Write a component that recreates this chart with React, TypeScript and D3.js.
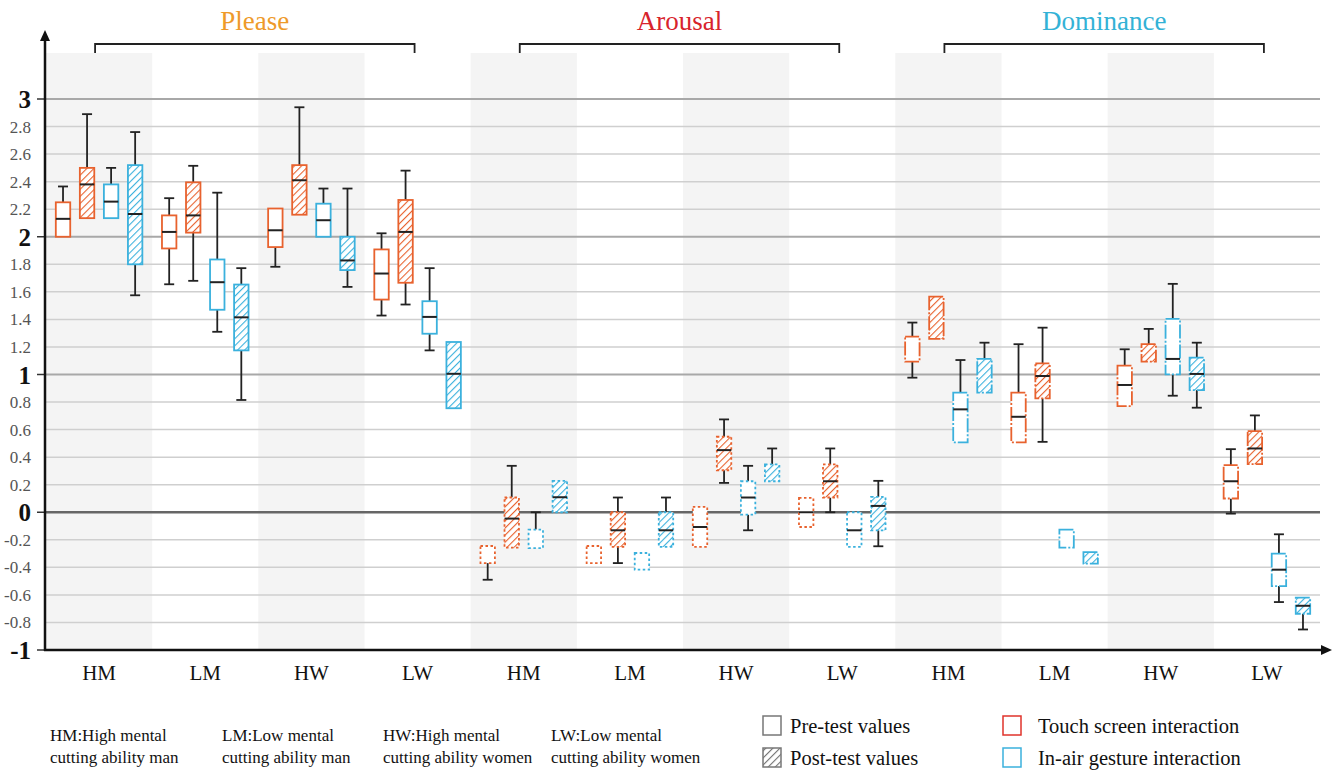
import React from 'react';
import { scaleLinear, scaleBand, range } from 'd3';

// box stats: [whiskerLow, boxLow, median, boxHigh, whiskerHigh], null = not drawn
type Box = (number | null)[];

const dimensions = ['Please', 'Arousal', 'Dominance'];
const groups = ['HM', 'LM', 'HW', 'LW'];
const series = ['touchPre', 'touchPost', 'airPre', 'airPost'];

const pleaseBoxes: Box[] = [
  [null, 2.0, 2.13, 2.25, 2.365], [null, 2.135, 2.38, 2.5, 2.89], [null, 2.135, 2.255, 2.38, 2.5], [1.575, 1.8, 2.165, 2.52, 2.76],
  [1.655, 1.915, 2.035, 2.155, 2.28], [1.68, 2.03, 2.155, 2.395, 2.515], [1.31, 1.47, 1.67, 1.835, 2.32], [0.815, 1.175, 1.415, 1.653, 1.772],
  [1.782, 1.925, 2.047, 2.205, null], [null, 2.16, 2.41, 2.52, 2.94], [null, 2.0, 2.12, 2.24, 2.35], [1.636, 1.758, 1.828, 2.0, 2.35],
  [1.428, 1.544, 1.733, 1.908, 2.025], [1.508, 1.666, 2.035, 2.267, 2.48], [1.175, 1.296, 1.418, 1.532, 1.772], [null, 0.755, 1.005, 1.236, null],
];

const arousalBoxes: Box[] = [
  [-0.49, -0.369, null, -0.245, null], [null, -0.257, -0.046, 0.107, 0.337], [null, -0.26, null, -0.126, 0.0], [null, 0.0, 0.109, 0.228, null],
  [null, -0.369, null, -0.245, null], [-0.369, -0.252, -0.131, 0.0, 0.107], [null, -0.417, null, -0.296, null], [null, -0.252, -0.131, 0.0, 0.107],
  [null, -0.252, -0.107, 0.039, null], [0.213, 0.305, 0.451, 0.548, 0.674], [-0.131, -0.017, 0.107, 0.225, 0.337], [null, 0.225, null, 0.347, 0.463],
  [null, -0.107, 0.0, 0.104, null], [0.0, 0.107, 0.225, 0.347, 0.463], [null, -0.252, -0.131, 0.0, null], [-0.247, -0.131, 0.046, 0.111, 0.228],
];

const dominanceBoxes: Box[] = [
  [0.977, 1.093, null, 1.275, 1.377], [null, 1.258, null, 1.566, null], [null, 0.507, 0.747, 0.868, 1.105], [null, 0.868, null, 1.113, 1.231],
  [null, 0.507, 0.693, 0.868, 1.22], [0.511, 0.827, 0.989, 1.081, 1.34], [null, -0.257, null, -0.126, null], [null, -0.373, null, -0.289, null],
  [null, 0.771, 0.924, 1.064, 1.183], [null, 1.093, null, 1.22, 1.331], [0.846, 1.001, 1.113, 1.404, 1.658], [0.759, 0.887, 1.004, 1.122, 1.231],
  [-0.01, 0.1, 0.225, 0.342, 0.458], [null, 0.349, 0.463, 0.589, 0.703], [-0.652, -0.536, -0.417, -0.3, -0.16], [-0.851, -0.737, -0.679, -0.62, null],
];

const majorTicks = [3, 2, 1, 0, -1];
const minorTicks = [2.8, 2.6, 2.4, 2.2, 1.8, 1.6, 1.4, 1.2, 0.8, 0.6, 0.4, 0.2, -0.2, -0.4, -0.6, -0.8];
const groupNotes = [
  ['HM:High mental', 'cutting ability man'],
  ['LM:Low mental', 'cutting ability man'],
  ['HW:High mental', 'cutting ability women'],
  ['LW:Low mental', 'cutting ability women'],
];

const TOUCH = '#E8622E';
const AIR = '#3BB1DD';
const titleColors = ['#EE9A2A', '#D8232C', '#33B2D6'];
const dashes = [null, '2.5,2.5', '14,2,2,2'];
const SERIF = 'Liberation Serif, DejaVu Serif, serif';

export default function App() {
  const W = 1340, H = 770;
  const y = scaleLinear().domain([-1, 3]).range([650, 99]);
  const bandKeys = range(12).map(String);
  const x = scaleBand().domain(bandKeys).range([46, 1320]);
  const sub = scaleBand().domain(series).range([5, x.bandwidth() - 5]).paddingInner(0.4).paddingOuter(0.2);
  const bw = sub.bandwidth();
  const allBoxes = [pleaseBoxes, arousalBoxes, dominanceBoxes];
  const noteX = [50, 222, 383, 551];

  return (
    <svg width={W} height={H} fontFamily={SERIF}
      style={{ position: 'absolute', left: 0, top: 0, display: 'block', background: '#fff' }}>
      <defs>
        {[['hatchTouch', TOUCH], ['hatchAir', AIR], ['hatchGray', '#777']].map(([id, c]) => (
          <pattern key={id} id={id} patternUnits="userSpaceOnUse" width={5} height={5} patternTransform="rotate(45)">
            <rect width={5} height={5} fill="#fff" />
            <line x1={0} y1={0} x2={0} y2={5} stroke={c} strokeWidth={2.2} />
          </pattern>
        ))}
      </defs>

      {/* alternating background bands */}
      {bandKeys.map((k, i) => i % 2 === 0 && (
        <rect key={k} x={x(k)} y={53} width={x.bandwidth()} height={597} fill="#f4f4f4" />
      ))}

      {/* gridlines */}
      {minorTicks.map(t => (
        <line key={t} x1={46} x2={1320} y1={y(t)} y2={y(t)} stroke="#cfcfcf" strokeWidth={1.5} />
      ))}
      {majorTicks.filter(t => t > -1).map(t => (
        <line key={t} x1={46} x2={1320} y1={y(t)} y2={y(t)} stroke={t === 0 ? '#666' : '#a8a8a8'} strokeWidth={t === 0 ? 2.5 : 1.8} />
      ))}

      {/* y labels */}
      {minorTicks.map(t => (
        <text key={t} x={31} y={y(t)} dy="0.35em" textAnchor="end" fontSize={17} fill="#555">{t}</text>
      ))}
      {majorTicks.map(t => (
        <g key={t}>
          <text x={31} y={y(t)} dy="0.36em" textAnchor="end" fontSize={25} fontWeight="bold" fill="#111">{t}</text>
          <line x1={37} x2={46} y1={y(t)} y2={y(t)} stroke="#333" strokeWidth={1.5} />
        </g>
      ))}

      {/* boxes */}
      {allBoxes.map((boxes, d) => boxes.map((b, j) => {
        const g = d * 4 + Math.floor(j / 4);
        const s = series[j % 4];
        const cx = (x(String(g)) as number) + (sub(s) as number) + bw / 2;
        const x0 = cx - bw / 2;
        const color = s.startsWith('touch') ? TOUCH : AIR;
        const post = s.endsWith('Post');
        const [wl, lo, med, hi, wh] = b;
        return (
          <g key={`${d}-${j}`}>
            {wh != null && (
              <g stroke="#222" strokeWidth={1.8}>
                <line x1={cx} x2={cx} y1={y(hi as number)} y2={y(wh)} />
                <line x1={cx - 5} x2={cx + 5} y1={y(wh)} y2={y(wh)} />
              </g>
            )}
            {wl != null && (
              <g stroke="#222" strokeWidth={1.8}>
                <line x1={cx} x2={cx} y1={y(lo as number)} y2={y(wl)} />
                <line x1={cx - 5} x2={cx + 5} y1={y(wl)} y2={y(wl)} />
              </g>
            )}
            <rect x={x0} y={y(hi as number)} width={bw} height={y(lo as number) - y(hi as number)}
              fill={post ? `url(#${s.startsWith('touch') ? 'hatchTouch' : 'hatchAir'})` : '#fff'}
              stroke={color} strokeWidth={1.8} strokeDasharray={dashes[d] ?? undefined} />
            {med != null && (
              <line x1={x0} x2={x0 + bw} y1={y(med)} y2={y(med)} stroke="#222" strokeWidth={2} />
            )}
          </g>
        );
      }))}

      {/* axes */}
      <line x1={45} x2={45} y1={651} y2={38} stroke="#111" strokeWidth={2.5} />
      <path d="M45,30 L40,41 L50,41 Z" fill="#111" />
      <line x1={44} x2={1324} y1={650} y2={650} stroke="#111" strokeWidth={2.5} />
      <path d="M1332,650 L1321,645 L1321,655 Z" fill="#111" />

      {/* x labels */}
      {bandKeys.map((k, i) => (
        <text key={k} x={(x(k) as number) + x.bandwidth() / 2} y={680} textAnchor="middle" fontSize={21} fill="#111">{groups[i % 4]}</text>
      ))}

      {/* dimension titles with brackets */}
      {dimensions.map((name, d) => {
        const a = (x(String(d * 4)) as number) + x.bandwidth() / 2 - 4;
        const b = (x(String(d * 4 + 3)) as number) + x.bandwidth() / 2 - 3;
        return (
          <g key={name}>
            <path d={`M${a},53 V44 H${b} V53`} fill="none" stroke="#222" strokeWidth={1.8} />
            <text x={(a + b) / 2} y={30} textAnchor="middle" fontSize={27} fill={titleColors[d]}>{name}</text>
          </g>
        );
      })}

      {/* legend: group notes */}
      {groupNotes.map((lines, i) => (
        <text key={i} y={741} fontSize={17} fill="#111">
          <tspan x={noteX[i]}>{lines[0]}</tspan>
          <tspan x={noteX[i]} dy={22}>{lines[1]}</tspan>
        </text>
      ))}

      {/* legend: fill and colour keys */}
      <rect x={763} y={716} width={18} height={19} fill="#fff" stroke="#777" strokeWidth={1.5} />
      <text x={790} y={733} fontSize={20.5} fill="#111">Pre-test values</text>
      <rect x={763} y={748} width={18} height={19} fill="url(#hatchGray)" stroke="#777" strokeWidth={1.5} />
      <text x={790} y={765} fontSize={20.5} fill="#111">Post-test values</text>
      <rect x={1003} y={716} width={18} height={19} fill="#fff" stroke="#E0332B" strokeWidth={1.5} />
      <text x={1038} y={733} fontSize={20.5} fill="#111">Touch screen interaction</text>
      <rect x={1003} y={748} width={18} height={19} fill="#fff" stroke={AIR} strokeWidth={1.5} />
      <text x={1038} y={765} fontSize={20.5} fill="#111">In-air gesture interaction</text>
    </svg>
  );
}
